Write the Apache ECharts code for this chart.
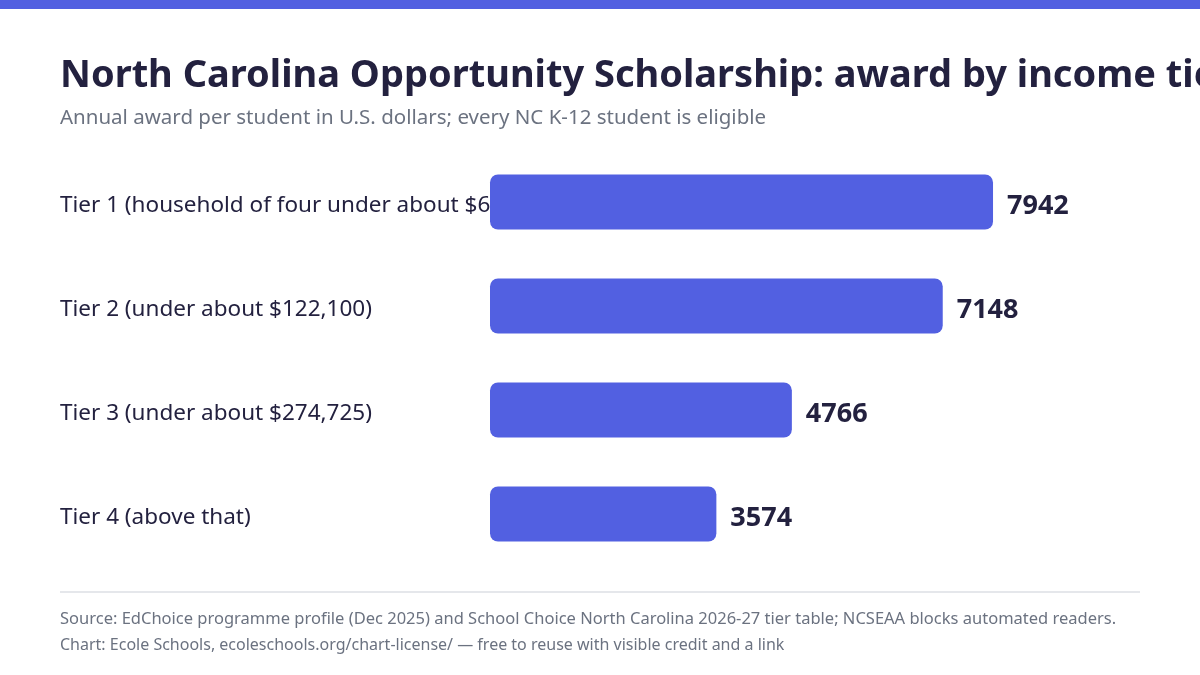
<!DOCTYPE html>
<html lang="en">
  <head>
    <meta charset="UTF-8" />
    <title>NC Opportunity Scholarship</title>
    <script src="https://cdn.jsdelivr.net/npm/echarts@6.0.0/dist/echarts.min.js"></script>
    <style>
      html, body { margin: 0; padding: 0; background: #fff; }
    </style>
  </head>
  <body>
    <div id="main" style="width: 1200px; height: 675px"></div>
    <script type="text/javascript">
      // Data
      const tiers = [
        "Tier 1 (household of four under about $62,400)",
        "Tier 2 (under about $122,100)",
        "Tier 3 (under about $274,725)",
        "Tier 4 (above that)"
      ];
      const awards = [7942, 7148, 4766, 3574];

      const ink = "#23213f";
      const accent = "#5260e1";
      const font = "'Noto Sans', 'Open Sans', sans-serif";

      let myChart = echarts.init(document.getElementById("main"));

      let options = {
        backgroundColor: "#ffffff",
        textStyle: { fontFamily: font },
        title: {
          text: "North Carolina Opportunity Scholarship: award by income tier",
          subtext: "Annual award per student in U.S. dollars; every NC K-12 student is eligible",
          left: 60,
          top: 57,
          padding: 0,
          itemGap: 13,
          textStyle: { color: ink, fontSize: 38, fontWeight: "bold", fontFamily: font },
          subtextStyle: { color: "#6b7280", fontSize: 20.5, fontFamily: font }
        },
        grid: { left: 490, width: 506.7, top: 150, bottom: 109, containLabel: false },
        xAxis: {
          type: "value",
          min: 0,
          max: 8000,
          show: false
        },
        yAxis: {
          type: "category",
          data: tiers,
          inverse: true,
          axisLine: { show: false },
          axisTick: { show: false },
          axisLabel: {
            align: "left",
            margin: 430,
            formatter: (v) => "{t|" + v + "}",
            rich: {
              t: { color: ink, fontSize: 22.5, fontFamily: font, padding: [7, 0, 0, 0] }
            }
          }
        },
        series: [
          {
            name: "Award",
            type: "bar",
            data: awards,
            barWidth: 55,
            itemStyle: { color: accent, borderRadius: 8 },
            label: {
              show: true,
              position: "right",
              distance: 14,
              offset: [0, 4],
              color: ink,
              fontSize: 27,
              fontWeight: "bold",
              fontFamily: font
            }
          }
        ],
        graphic: [
          { type: "rect", left: 0, top: 0, shape: { width: 1200, height: 9 }, style: { fill: accent } },
          { type: "rect", left: 60, top: 591, shape: { width: 1080, height: 2 }, style: { fill: "#e5e7eb" } },
          {
            type: "text", left: 60, top: 611,
            style: {
              text: "Source: EdChoice programme profile (Dec 2025) and School Choice North Carolina 2026-27 tier table; NCSEAA blocks automated readers.",
              fill: "#6b7280", fontSize: 16.5, fontFamily: font
            }
          },
          {
            type: "text", left: 60, top: 637,
            style: {
              text: "Chart: Ecole Schools, ecoleschools.org/chart-license/ \u2014 free to reuse with visible credit and a link",
              fill: "#6b7280", fontSize: 16, fontFamily: font
            }
          }
        ]
      };

      myChart.setOption(options);
    </script>
  </body>
</html>
